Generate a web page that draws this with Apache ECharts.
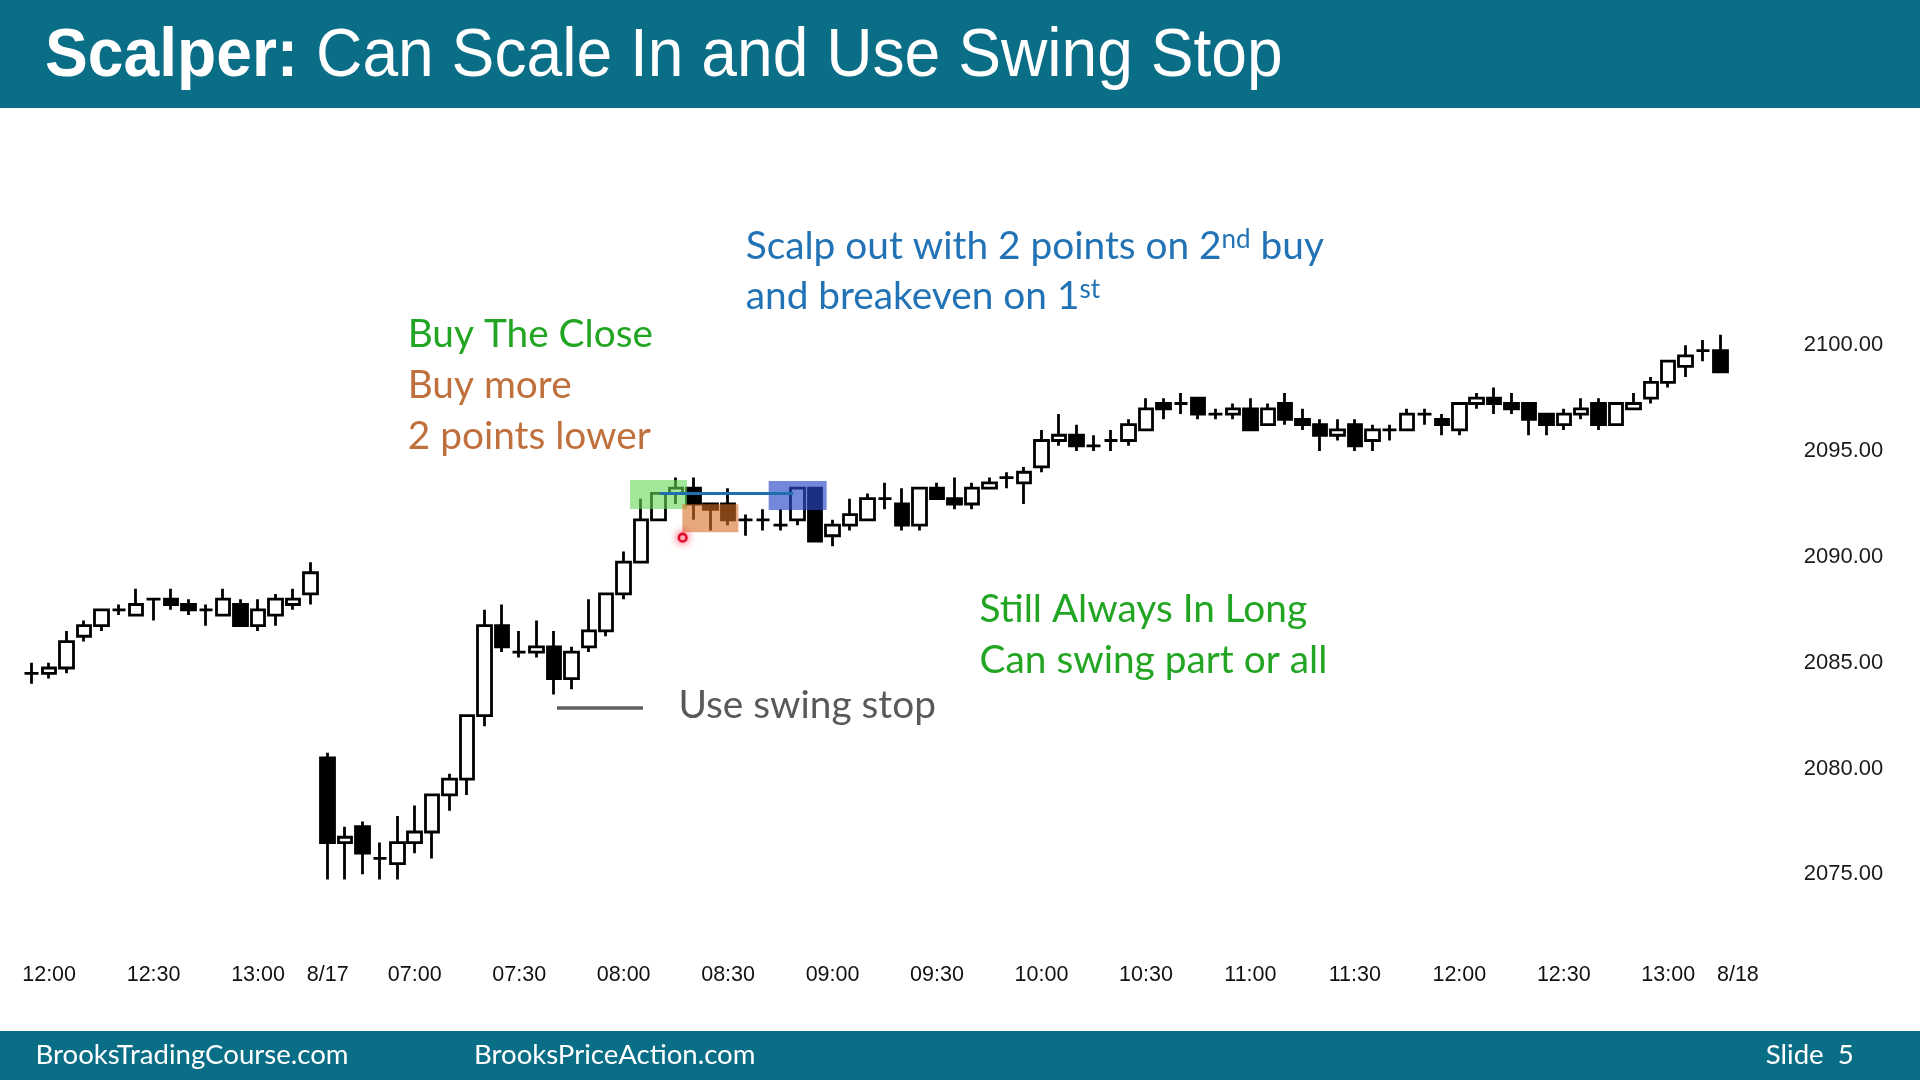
<!DOCTYPE html>
<html>
<head>
<meta charset="utf-8">
<script src="https://cdn.jsdelivr.net/npm/echarts@6/dist/echarts.min.js"></script>
<style>
html,body{margin:0;padding:0;background:#ffffff;}
#c{width:1920px;height:1080px;}
</style>
</head>
<body>
<div id="c"></div>
<script>
// ---------- categories (5-minute bars) ----------
const prevDayTimes = ['11:55','12:00','12:05','12:10','12:15','12:20','12:25','12:30','12:35','12:40','12:45','12:50','12:55','13:00','13:05','13:10','13:15'];
const dayTimes = ['06:35','06:40','06:45','06:50','06:55',
 '07:00','07:05','07:10','07:15','07:20','07:25','07:30','07:35','07:40','07:45','07:50','07:55',
 '08:00','08:05','08:10','08:15','08:20','08:25','08:30','08:35','08:40','08:45','08:50','08:55',
 '09:00','09:05','09:10','09:15','09:20','09:25','09:30','09:35','09:40','09:45','09:50','09:55',
 '10:00','10:05','10:10','10:15','10:20','10:25','10:30','10:35','10:40','10:45','10:50','10:55',
 '11:00','11:05','11:10','11:15','11:20','11:25','11:30','11:35','11:40','11:45','11:50','11:55',
 '12:00','12:05','12:10','12:15','12:20','12:25','12:30','12:35','12:40','12:45','12:50','12:55',
 '13:00','13:05','13:10','13:15'];
const nextDayTimes = ['06:35','06:40','06:45','06:50'];
const categories = [].concat(
  prevDayTimes.map(t => '8/16 ' + t),
  dayTimes.map(t => '8/17 ' + t),
  nextDayTimes.map(t => '8/18 ' + t)
);

// ---------- tick labels ----------
const xTickLabels = [
  ['8/16 12:00','12:00'],['8/16 12:30','12:30'],['8/16 13:00','13:00'],
  ['8/17 06:35','8/17'],['8/17 07:00','07:00'],['8/17 07:30','07:30'],['8/17 08:00','08:00'],
  ['8/17 08:30','08:30'],['8/17 09:00','09:00'],['8/17 09:30','09:30'],['8/17 10:00','10:00'],
  ['8/17 10:30','10:30'],['8/17 11:00','11:00'],['8/17 11:30','11:30'],['8/17 12:00','12:00'],
  ['8/17 12:30','12:30'],['8/17 13:00','13:00'],['8/18 06:35','8/18']
];
const yTickLabels = [2075, 2080, 2085, 2090, 2095, 2100];

// ---------- OHLC values ----------
const opens = [
 2084.5,2084.5,2084.75,2086.25,2086.75,2087.5,2087.25,2088,2088,2087.75,2087.5,2087.25,2087.75,2086.75,2087.25,2087.75,2088.25,
 2080.5,2076.5,2077.25,2075.75,2075.5,2076.5,2077,2078.75,2079.5,2082.5,
 2086.75,2085.5,2085.5,2085.75,2084.25,2085.75,2086.5,2088.25,2089.75,2091.75,
 2093,2093.25,2092.5,2092.5,2091.75,2091.75,2091.5,2091.75,2093.25,2091,
 2091.5,2091.75,2092.75,2092.5,2091.5,2093.25,2092.75,2092.5,2093.25,2093.75,
 2093.5,2094.25,2095.5,2095.75,2095.25,2095.5,2095.5,2096,2097.25,2097.25,
 2097.5,2096.75,2096.75,2097,2096.25,2097.25,2096.5,2096.25,2095.75,2096.25,
 2095.5,2096,2096,2096.75,2096.5,2096,2097.25,2097.5,2097.25,2097.25,
 2096.75,2096.25,2096.75,2097.25,2096.25,2097,2097.5,2098.25,2099,2099.75,2099.75
];
const highs = [
 2085,2085,2086.5,2087,2087.5,2087.75,2088.5,2088,2088.5,2088,2087.75,2088.5,2088,2088,2088.25,2088.5,2089.75,
 2080.75,2077.25,2077.5,2076.5,2077.75,2078.25,2078.75,2079.75,2082.5,2087.5,
 2087.75,2086.5,2087,2086.5,2085.75,2088,2088.25,2090.25,2092.75,2093,
 2093.75,2093.75,2092.5,2093.25,2092,2092.25,2092.25,2093.25,2093.25,2091.75,
 2092.75,2093,2093.5,2093.25,2093.25,2093.5,2093.75,2093.5,2093.75,2094,
 2094.25,2096,2096.75,2096.25,2095.75,2096,2096.5,2097.5,2097.5,2097.75,
 2097.5,2097,2097.25,2097.5,2097.25,2097.75,2097,2096.5,2096.5,2096.5,
 2096.25,2096.25,2097,2097,2096.75,2097.25,2097.75,2098,2097.75,2097.25,
 2096.75,2097,2097.5,2097.5,2097.25,2097.75,2098.5,2099.25,2100,2100.25,2100.5
];
const lows = [
 2084,2084.25,2084.5,2086,2086.5,2087.25,2087.25,2087,2087.5,2087.25,2086.75,2087.25,2086.75,2086.5,2086.75,2087.5,2087.75,
 2074.75,2074.75,2075,2074.75,2074.75,2076,2075.75,2078,2078.75,2082,
 2085.5,2085.25,2085.25,2083.5,2083.75,2085.5,2086.25,2088,2089.75,2091.75,
 2092.5,2091.75,2091.25,2091.5,2091,2091.25,2091.25,2091.5,2090.75,2090.5,
 2091.25,2091.75,2092.25,2091.25,2091.25,2092.75,2092.25,2092.25,2093.25,2093.25,
 2092.5,2094,2095.25,2095,2095,2095,2095.25,2096,2096.5,2096.75,
 2096.5,2096.5,2096.5,2096,2096.25,2096.25,2096,2095,2095.5,2095,
 2095,2095.5,2096,2096.25,2095.75,2095.75,2097,2096.75,2096.75,2095.75,
 2095.75,2096,2096.5,2096,2096.25,2097,2097.25,2098,2098.5,2099.25,2098.75
];
const closes = [
 2084.5,2084.75,2086,2086.75,2087.5,2087.5,2087.75,2088,2087.75,2087.5,2087.5,2088,2086.75,2087.5,2088,2088,2089.25,
 2076.5,2076.75,2076,2075.75,2076.5,2077,2078.75,2079.5,2082.5,2086.75,
 2085.75,2085.5,2085.75,2084.25,2085.5,2086.5,2088.25,2089.75,2091.75,2093,
 2093.25,2092.5,2092.25,2091.75,2091.75,2091.75,2091.5,2093.25,2090.75,2091.5,
 2092,2092.75,2092.75,2091.5,2093.25,2092.75,2092.5,2093.25,2093.5,2093.75,
 2094,2095.5,2095.75,2095.25,2095.25,2095.5,2096.25,2097,2097,2097.25,
 2096.75,2096.75,2097,2096,2097,2096.5,2096.25,2095.75,2096,2095.25,
 2096,2096,2096.75,2096.75,2096.25,2097.25,2097.5,2097.25,2097,2096.5,
 2096.25,2096.75,2097,2096.25,2097.25,2097.25,2098.25,2099.25,2099.5,2099.75,2098.75
];

// ---------- annotations (category position, price) ----------
const annotationBoxes = [
  {from: 34.37, to: 37.64, low: 2092.26, high: 2093.63, kind: 'green'},
  {from: 37.37, to: 40.59, low: 2091.16, high: 2092.49, kind: 'orange'},
  {from: 42.33, to: 45.66, low: 2092.22, high: 2093.59, kind: 'blue'}
];
const annotationLines = [
  {from: 36.09, to: 43.74, price: 2093.0, kind: 'entry'},
  {from: 30.17, to: 35.11, price: 2082.86, kind: 'stop'}
];
const annotationDots = [{at: 37.39, price: 2090.91}];

const boxFills = {green: 'rgba(100,215,85,0.6)', orange: 'rgba(215,110,40,0.6)', blue: 'rgba(40,70,200,0.65)'};
const lineStyles = {entry: {stroke: '#1f6fae', lineWidth: 3}, stop: {stroke: '#5f5f5f', lineWidth: 3.3}};

const labelMap = new Map(xTickLabels);
const candleData = opens.map((o, i) => [o, closes[i], lows[i], highs[i]]);

const ANN_FONT = 'Lato';
const ANN_SIZE = 38.8;
const BAND = 17.41;
const NCAT = categories.length;

function xAt(api, p, price) {
  const i = Math.floor(p);
  const band = api.size([1, 0])[0];
  return api.coord([i, price])[0] + (p - i) * band;
}

const chart = echarts.init(document.getElementById('c'), null, {renderer: 'canvas', width: 1920, height: 1080});

function annText(x, y, text, fill) {
  return {type: 'text', x: x, y: y, z: 11, silent: true, style: {
    text: text, fill: fill, fontSize: ANN_SIZE, fontFamily: ANN_FONT, verticalAlign: 'middle', align: 'left',
    rich: {sup: {fontSize: 26, fontFamily: ANN_FONT, fill: fill, verticalAlign: 'top'}}
  }};
}

const option = {
  animation: false,
  backgroundColor: '#ffffff',
  grid: {left: 23, top: 292.4, width: BAND * NCAT, height: 634.8, containLabel: false, outerBoundsMode: 'none'},
  xAxis: {
    type: 'category', data: categories, boundaryGap: true,
    axisLine: {show: false}, axisTick: {show: false}, splitLine: {show: false},
    axisLabel: {
      interval: (idx, val) => labelMap.has(val),
      formatter: v => labelMap.get(v) || '',
      margin: 37, fontSize: 21.5, fontFamily: 'Liberation Sans', color: '#111111'
    }
  },
  yAxis: {
    type: 'value', position: 'right', min: 2072.5, max: 2102.5, interval: 2.5,
    axisLine: {show: false}, axisTick: {show: false}, splitLine: {show: false},
    axisLabel: {
      margin: 5, fontSize: 22, fontFamily: 'Liberation Sans', color: '#1a1a1a',
      showMinLabel: true, showMaxLabel: true,
      formatter: v => (yTickLabels.indexOf(v) >= 0 ? v.toFixed(2) : '')
    }
  },
  series: [
    {
      type: 'candlestick', data: candleData, barWidth: 14, z: 2,
      emphasis: {disabled: true}, silent: true,
      itemStyle: {color: '#ffffff', color0: '#000000', borderColor: '#000000', borderColor0: '#000000', borderColorDoji: '#000000', borderWidth: 2.8}
    },
    {
      type: 'custom', z: 5, clip: false, silent: true,
      data: annotationBoxes.map(b => [Math.floor(b.from), b.low]),
      encode: {x: 0, y: 1},
      renderItem: (params, api) => {
        const b = annotationBoxes[params.dataIndex];
        const x0 = xAt(api, b.from, b.low), x1 = xAt(api, b.to, b.low);
        const yTop = api.coord([0, b.high])[1], yBot = api.coord([0, b.low])[1];
        return {type: 'rect', shape: {x: x0, y: yTop, width: x1 - x0, height: yBot - yTop}, style: {fill: boxFills[b.kind]}};
      }
    },
    {
      type: 'custom', z: 6, clip: false, silent: true,
      data: annotationLines.map(l => [Math.floor(l.from), l.price]),
      encode: {x: 0, y: 1},
      renderItem: (params, api) => {
        const l = annotationLines[params.dataIndex];
        const y = api.coord([0, l.price])[1];
        return {type: 'line', shape: {x1: xAt(api, l.from, l.price), y1: y, x2: xAt(api, l.to, l.price), y2: y}, style: lineStyles[l.kind]};
      }
    },
    {
      type: 'custom', z: 7, clip: false, silent: true,
      data: annotationDots.map(d => [Math.floor(d.at), d.price]),
      encode: {x: 0, y: 1},
      renderItem: (params, api) => {
        const d = annotationDots[params.dataIndex];
        const y = api.coord([0, d.price])[1];
        return {type: 'circle', shape: {cx: xAt(api, d.at, d.price), cy: y, r: 3.8},
          style: {fill: '#ffe0e4', stroke: '#e0102a', lineWidth: 2.6, shadowBlur: 8, shadowColor: 'rgba(255,0,40,0.7)'}};
      }
    }
  ],
  graphic: [
    {type: 'rect', shape: {x: 0, y: 0, width: 1920, height: 108}, style: {fill: '#0b6e87'}, z: 10, silent: true},
    {type: 'rect', shape: {x: 0, y: 1031, width: 1920, height: 49}, style: {fill: '#0b6e87'}, z: 10, silent: true},
    {type: 'text', x: 45, y: 57, scaleX: 0.93, scaleY: 1, originX: 0, originY: 0, z: 11, silent: true, style: {
      text: '{b|Scalper:} Can Scale In and Use Swing Stop', fill: '#ffffff',
      fontSize: 69, fontFamily: 'Liberation Sans', verticalAlign: 'middle', align: 'left',
      rich: {b: {fontWeight: 'bold', fontSize: 69, fontFamily: 'Liberation Sans', fill: '#ffffff'}}
    }},
    annText(745.7, 246, 'Scalp out with 2 points on 2{sup|nd} buy', '#2273b5'),
    annText(745.7, 296, 'and breakeven on 1{sup|st}', '#2273b5'),
    annText(407.7, 334, 'Buy The Close', '#22a522'),
    annText(407.7, 385, 'Buy more', '#c0703c'),
    annText(407.7, 436, '2 points lower', '#c0703c'),
    annText(979.6, 609, 'Still Always In Long', '#22a522'),
    annText(979.6, 660, 'Can swing part or all', '#22a522'),
    annText(678.4, 705, 'Use swing stop', '#595959'),
    {type: 'text', x: 35.5, y: 1055, z: 11, silent: true, style: {text: 'BrooksTradingCourse.com', fill: '#ffffff', fontSize: 27.6, fontFamily: ANN_FONT, verticalAlign: 'middle'}},
    {type: 'text', x: 474, y: 1055, z: 11, silent: true, style: {text: 'BrooksPriceAction.com', fill: '#ffffff', fontSize: 27.6, fontFamily: ANN_FONT, verticalAlign: 'middle'}},
    {type: 'text', x: 1765.8, y: 1055, z: 11, silent: true, style: {text: 'Slide  5', fill: '#ffffff', fontSize: 27.6, fontFamily: ANN_FONT, verticalAlign: 'middle'}}
  ]
};
chart.setOption(option);
</script>
</body>
</html>
